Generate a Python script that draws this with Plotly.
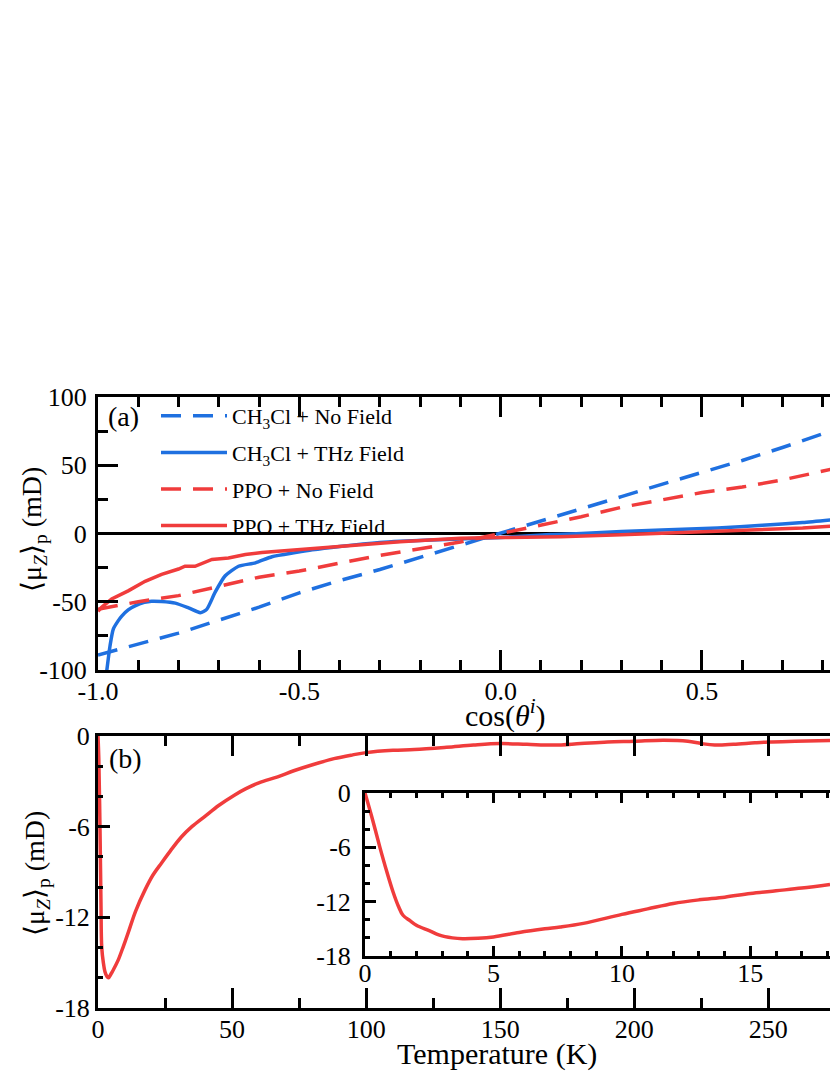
import plotly.graph_objects as go

# ---- panel (a): <mu_Z>_p vs cos(theta^i) ----
ch3cl_nofield_x = [-1.0, -0.9, -0.8, -0.7, -0.6, -0.5, -0.4, -0.3, -0.2, -0.1, 0.0,
                   0.1, 0.2, 0.3, 0.4, 0.5, 0.6, 0.7, 0.82]
ch3cl_nofield_y = [-89, -81, -73, -63.5, -54, -43.5, -34.5, -26.4, -17.6, -8.8, 0,
                   9.4, 18.2, 27, 36, 44.5, 53.5, 63, 75]

ch3cl_thz_x = [-0.982, -0.978, -0.97, -0.962, -0.95, -0.941, -0.925, -0.908, -0.885,
               -0.867, -0.842, -0.808, -0.775, -0.746, -0.73, -0.709, -0.684, -0.651,
               -0.609, -0.568, -0.51, -0.468, -0.4, -0.3, -0.249, -0.1, 0.0, 0.124,
               0.2, 0.3, 0.4, 0.539, 0.65, 0.75, 0.821]
ch3cl_thz_y = [-110, -100, -82, -70, -64, -60.5, -56, -53, -50.5, -49.6, -49.8, -51,
               -54.5, -58, -55.6, -43, -31, -24, -21.5, -17, -14, -12, -9.5, -6.5,
               -5.6, -4, -3, -0.7, 0, 1.5, 2.5, 4, 6, 8, 10]

ppo_nofield_x = [-1.0, -0.9, -0.8, -0.7, -0.6, -0.5, -0.4, -0.3, -0.2, -0.1, 0.0,
                 0.1, 0.2, 0.3, 0.4, 0.5, 0.6, 0.7, 0.82]
ppo_nofield_y = [-55.5, -50, -45.5, -39, -32, -27.5, -22, -16, -11.2, -6.2, 0,
                 6, 12.3, 19.2, 24.8, 30, 34, 39.3, 47]

ppo_thz_x = [-1.0, -0.991, -0.966, -0.925, -0.883, -0.842, -0.8, -0.784, -0.759,
             -0.717, -0.676, -0.634, -0.593, -0.51, -0.468, -0.4, -0.332, -0.25,
             -0.166, -0.1, 0.0, 0.149, 0.3, 0.4, 0.539, 0.65, 0.75, 0.821]
ppo_thz_y = [-57, -54, -48, -42, -35, -30, -26, -24, -24, -19, -18, -15.4, -14, -12,
             -11, -9, -7.5, -6, -4.5, -3.5, -3, -2.4, -1, 0, 1.7, 2.8, 4, 5.4]

# ---- panel (b): <mu_Z>_p vs temperature ----
temp_k = [0, 0.3, 0.75, 1.1, 1.4, 2.0, 2.6, 3.3, 3.9, 5, 6.5, 7.6, 9.5, 11.3, 14,
          17.5, 20.5, 23.7, 27, 31, 35, 40, 45, 51, 55, 60, 67, 73, 80, 88, 95, 100,
          110, 118, 130, 140, 150, 160, 170, 180, 190, 200, 211, 220, 225, 230, 237,
          245, 250, 260, 273]
mu_temp = [0, -1.5, -6.2, -11, -14, -15.0, -15.6, -15.9, -16.0, -15.7, -15.2, -14.8,
           -13.9, -13.0, -11.6, -10.2, -9.2, -8.4, -7.6, -6.7, -6.0, -5.3, -4.6, -3.9,
           -3.5, -3.1, -2.7, -2.3, -1.9, -1.5, -1.25, -1.1, -0.95, -0.9, -0.75, -0.6,
           -0.5, -0.55, -0.6, -0.5, -0.4, -0.35, -0.28, -0.35, -0.5, -0.6, -0.55,
           -0.45, -0.4, -0.35, -0.3]

# inset: low temperature zoom
inset_temp = [0, 0.3, 0.58, 0.85, 1.09, 1.3, 1.48, 1.75, 2.0, 2.5, 2.9, 3.4, 3.8, 4.4,
              5, 6, 7, 7.6, 8.5, 10, 11, 12, 13, 14, 15, 16, 17, 18.1]
inset_mu = [0, -3, -6, -8.7, -10.9, -12.5, -13.5, -14.1, -14.6, -15.2, -15.7, -16.0,
            -16.1, -16.05, -15.9, -15.4, -15.0, -14.8, -14.4, -13.4, -12.8, -12.2,
            -11.8, -11.5, -11.1, -10.8, -10.5, -10.1]

# tick labels (hyphen minus, as in the original)
a_xticks = [-1.0, -0.5, 0.0, 0.5]
a_xlabels = ["-1.0", "-0.5", "0.0", "0.5"]
a_yticks = [-100, -50, 0, 50, 100]
a_ylabels = ["-100", "-50", "0", "50", "100"]
b_xticks = [0, 50, 100, 150, 200, 250]
b_xlabels = ["0", "50", "100", "150", "200", "250"]
b_yticks = [0, -6, -12, -18]
b_ylabels = ["0", "-6", "-12", "-18"]
in_xticks = [0, 5, 10, 15]
in_xlabels = ["0", "5", "10", "15"]

BLUE = "#1f70e0"
RED = "#f03c3c"
FONT = "Liberation Serif, Times New Roman, serif"
W, H = 830, 1075


def px_x(p):
    return p / W


def px_y(p):
    return 1 - p / H


fig = go.Figure()

series_a = [
    (ch3cl_nofield_x, ch3cl_nofield_y, "CH<sub>3</sub>Cl + No Field", BLUE, "20px,12px", "linear"),
    (ch3cl_thz_x, ch3cl_thz_y, "CH<sub>3</sub>Cl + THz Field", BLUE, "solid", "spline"),
    (ppo_nofield_x, ppo_nofield_y, "PPO + No Field", RED, "20px,12px", "linear"),
    (ppo_thz_x, ppo_thz_y, "PPO + THz Field", RED, "solid", "linear"),
]
for i, (x, y, name, color, dash, shape) in enumerate(series_a):
    fig.add_trace(go.Scatter(x=x, y=y, mode="lines", name=name,
                             legendgroup=f"g{i}",
                             line=dict(color=color, width=3.5, dash=dash,
                                       shape=shape, smoothing=0.6)))

fig.add_trace(go.Scatter(x=temp_k, y=mu_temp, mode="lines", showlegend=False,
                         line=dict(color=RED, width=3.5, shape="spline"),
                         xaxis="x2", yaxis="y2"))
fig.add_trace(go.Scatter(x=inset_temp, y=inset_mu, mode="lines", showlegend=False,
                         line=dict(color=RED, width=3.5, shape="spline"),
                         xaxis="x3", yaxis="y3"))


def axis(domain, rng, tickvals, ticktext, ticklen, minor_dtick, minor_len, **kw):
    d = dict(
        domain=domain, range=rng, tickmode="array", tickvals=tickvals,
        ticktext=ticktext, ticks="inside", ticklen=ticklen, tickwidth=3,
        tickcolor="black", showline=True, linecolor="black", linewidth=3,
        showgrid=False, zeroline=False, automargin=False,
        tickfont=dict(family=FONT, size=26, color="black"),
        minor=dict(tickmode="linear", tick0=0, dtick=minor_dtick,
                   ticklen=minor_len, tickwidth=3, tickcolor="black",
                   ticks="inside", showgrid=False),
    )
    d.update(kw)
    return d


fig.update_layout(
    width=W, height=H,
    margin=dict(l=0, r=0, t=0, b=0, autoexpand=False),
    paper_bgcolor="white", plot_bgcolor="white",
    font=dict(family=FONT, color="black"),
    xaxis=axis([px_x(98), 1], [-1, 0.818], a_xticks, a_xlabels, 20, 0.1, 10,
               anchor="y", mirror="ticks", ticklabelstandoff=-4),
    yaxis=axis([px_y(670), px_y(397)], [-100, 100], a_yticks, a_ylabels, 20, 25, 10,
               anchor="x", zeroline=True, zerolinecolor="black", zerolinewidth=3,
               ticklabelstandoff=3),
    xaxis2=axis([px_x(98), 1], [0, 273], b_xticks, b_xlabels, 20, 25, 10,
                anchor="y2", mirror="ticks", ticklabelstandoff=-4),
    yaxis2=axis([px_y(1008), px_y(736)], [-18, 0], b_yticks, b_ylabels, 12, 2, 5,
                anchor="x2", ticklabelstandoff=0),
    xaxis3=axis([px_x(365), 1], [0, 18.1], in_xticks, in_xlabels, 10, 1, 5,
                anchor="y3", mirror="ticks", ticklabelstandoff=-8),
    yaxis3=axis([px_y(956), px_y(793)], [-18, 0], b_yticks, b_ylabels, 11, 2, 5,
                anchor="x3", ticklabelstandoff=6),
    legend=dict(x=px_x(156), y=px_y(395), xanchor="left", yanchor="top",
                bgcolor="rgba(0,0,0,0)", font=dict(family=FONT, size=22, color="black"),
                itemwidth=66, tracegroupgap=5),
    showlegend=True,
)

ytitle = "⟨μ<sub><i>Z</i></sub>⟩<sub>p</sub> (mD)"
annotations = [
    dict(text="(a)", x=px_x(123), y=px_y(416)),
    dict(text="(b)", x=px_x(125), y=px_y(758)),
    dict(text="cos(<i>θ</i><sup><i>i</i></sup>)", x=px_x(505), y=px_y(713), size=30),
    dict(text="Temperature (K)", x=px_x(497), y=px_y(1054), size=30),
    dict(text=ytitle, x=px_x(33), y=px_y(530), size=28, angle=-90),
    dict(text=ytitle, x=px_x(36), y=px_y(874), size=28, angle=-90),
]
for a in annotations:
    fig.add_annotation(
        text=a["text"], x=a["x"], y=a["y"], xref="paper", yref="paper",
        xanchor="center", yanchor="middle", showarrow=False,
        textangle=a.get("angle", 0),
        font=dict(family=FONT, size=a.get("size", 28), color="black"),
    )

# drop the default 8px page margin so the figure sits at the window origin
fig.write_html("out.html", config={"displayModeBar": False},
               post_script="document.body.style.margin='0px';")
